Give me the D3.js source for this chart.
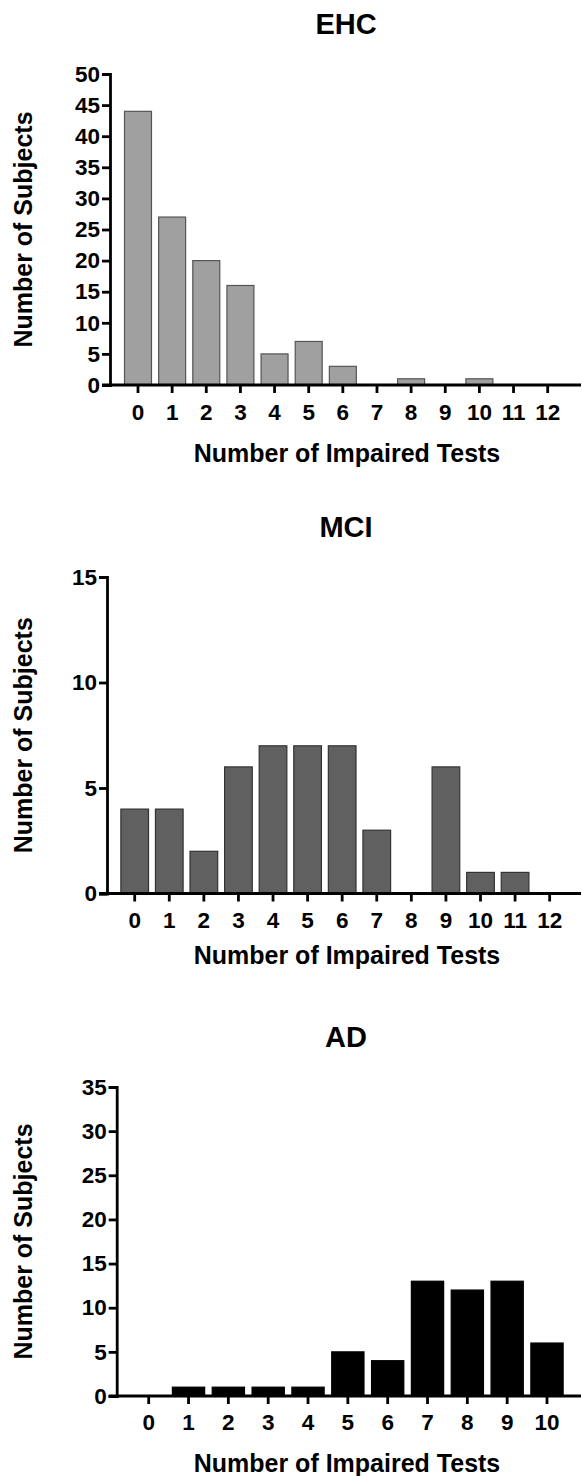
<!DOCTYPE html>
<html>
<head>
<meta charset="utf-8">
<script src="https://cdn.jsdelivr.net/npm/d3@7"></script>
<style>
  body { margin: 0; background: #fff; }
  svg text { font-family: "Liberation Sans", Arial, sans-serif; font-weight: bold; fill: #000; }
</style>
</head>
<body>
<div id="chart"></div>
<script>
var svgWidth = 582;
var svgHeight = 1476;

// data
var ehcTests = [0, 1, 2, 3, 4, 5, 6, 7, 8, 9, 10, 11, 12];
var ehcCounts = [44, 27, 20, 16, 5, 7, 3, 0, 1, 0, 1, 0, 0];
var ehcTicks = [0, 5, 10, 15, 20, 25, 30, 35, 40, 45, 50];

var mciTests = [0, 1, 2, 3, 4, 5, 6, 7, 8, 9, 10, 11, 12];
var mciCounts = [4, 4, 2, 6, 7, 7, 7, 3, 0, 6, 1, 1, 0];
var mciTicks = [0, 5, 10, 15];

var adTests = [0, 1, 2, 3, 4, 5, 6, 7, 8, 9, 10];
var adCounts = [0, 1, 1, 1, 1, 5, 4, 13, 12, 13, 6];
var adTicks = [0, 5, 10, 15, 20, 25, 30, 35];

var svg = d3.select("#chart")
    .append("svg")
    .attr("width", svgWidth)
    .attr("height", svgHeight);

// layout for each panel
var panels = [
    {title: "EHC", tests: ehcTests, counts: ehcCounts, ticks: ehcTicks,
     axisX: 110, top: 74, bottom: 385, firstX: 138, step: 34.14, pad: 0.21,
     titleY: 34, labelPad: 11, xTitleY: 462, fill: "#a0a0a0", stroke: "#555"},
    {title: "MCI", tests: mciTests, counts: mciCounts, ticks: mciTicks,
     axisX: 107, top: 577, bottom: 893.5, firstX: 134.7, step: 34.58, pad: 0.2,
     titleY: 537, labelPad: 11, xTitleY: 964, fill: "#606060", stroke: "#333"},
    {title: "AD", tests: adTests, counts: adCounts, ticks: adTicks,
     axisX: 116.7, top: 1087, bottom: 1396, firstX: 148.7, step: 39.83, pad: 0.19,
     titleY: 1047, labelPad: 10, xTitleY: 1472, fill: "#000", stroke: "#000"}
];

panels.forEach(function (p) {
    var g = svg.append("g");
    var n = p.tests.length;

    var xScale = d3.scaleBand()
        .domain(p.tests)
        .range([p.firstX - p.step / 2, p.firstX + p.step * (n - 0.5)])
        .paddingInner(p.pad)
        .paddingOuter(p.pad / 2);

    var yScale = d3.scaleLinear()
        .domain([0, d3.max(p.ticks)])
        .range([p.bottom, p.top]);

    // bars
    g.selectAll("rect")
        .data(p.counts)
        .enter()
        .append("rect")
        .attr("x", (d, i) => xScale(p.tests[i]))
        .attr("y", d => yScale(d))
        .attr("width", xScale.bandwidth())
        .attr("height", d => yScale(0) - yScale(d))
        .attr("fill", p.fill)
        .attr("stroke", p.stroke)
        .attr("stroke-width", 1.2);

    // y axis
    var leftAxis = d3.axisLeft(yScale)
        .tickValues(p.ticks)
        .tickSize(8)
        .tickSizeOuter(8)
        .tickPadding(2);

    var yAxis = g.append("g")
        .attr("transform", `translate(${p.axisX}, 0)`)
        .call(leftAxis);
    yAxis.selectAll("path, line").attr("stroke", "#000").attr("stroke-width", 2.8);
    yAxis.selectAll("text").style("font-size", "22.5px");

    // x axis
    var bottomAxis = d3.axisBottom(xScale)
        .tickSize(8)
        .tickSizeOuter(0)
        .tickPadding(p.labelPad);

    var xAxis = g.append("g")
        .attr("transform", `translate(0, ${p.bottom})`)
        .call(bottomAxis);
    xAxis.select(".domain").remove();
    xAxis.selectAll("line").attr("stroke", "#000").attr("stroke-width", 2.8);
    xAxis.selectAll("text").style("font-size", "22.5px");

    g.append("line")
        .attr("x1", p.axisX - 8)
        .attr("x2", 581)
        .attr("y1", p.bottom)
        .attr("y2", p.bottom)
        .attr("stroke", "#000")
        .attr("stroke-width", 2.8);

    // titles
    g.append("text")
        .attr("x", 346)
        .attr("y", p.titleY)
        .attr("text-anchor", "middle")
        .style("font-size", "29px")
        .text(p.title);

    g.append("text")
        .attr("x", 347)
        .attr("y", p.xTitleY)
        .attr("text-anchor", "middle")
        .style("font-size", "25px")
        .text("Number of Impaired Tests");

    g.append("text")
        .attr("transform", `translate(32, ${(p.top + p.bottom) / 2}) rotate(-90)`)
        .attr("text-anchor", "middle")
        .style("font-size", "25px")
        .text("Number of Subjects");
});
</script>
</body>
</html>
